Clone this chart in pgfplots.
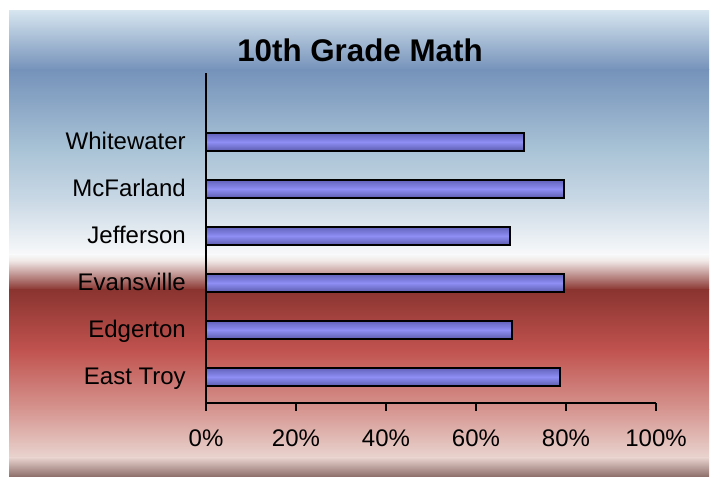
\documentclass[border=0pt]{standalone}
\usepackage{pgfplots}
\pgfplotsset{compat=1.18}
\usepackage{fontspec}
\setmainfont{Liberation Sans}
\definecolor{c0}{HTML}{D6E5EF}
\definecolor{c1}{HTML}{7592BA}
\definecolor{c2}{HTML}{A9C3D6}
\definecolor{c3}{HTML}{C9D8E5}
\definecolor{c4}{HTML}{F8F9FA}
\definecolor{c5}{HTML}{EEE4E2}
\definecolor{c6}{HTML}{8A3430}
\definecolor{c7}{HTML}{C0524E}
\definecolor{c8}{HTML}{D69590}
\definecolor{c9}{HTML}{E9D4CF}
\definecolor{c10}{HTML}{8C6C68}
\definecolor{barT}{HTML}{6262BC}
\definecolor{barM}{HTML}{8E8EF4}
\definecolor{barB}{HTML}{5C5CAE}
\newcommand{\band}[4]{\shade[top color=#3,bottom color=#4] ({9*0.75pt},{(478-#1+0.6)*0.75pt}) rectangle ({709*0.75pt},{(478-#2)*0.75pt});}
\begin{document}
\begin{tikzpicture}
\fill[white] (0,0) rectangle (536.25pt,358.5pt);
\band{11}{70}{c0}{c1}
\band{70}{150}{c1}{c2}
\band{150}{200}{c2}{c3}
\band{200}{255}{c3}{c4}
\band{255}{262}{c4}{c5}
\band{262}{290}{c5}{c6}
\band{290}{350}{c6}{c7}
\band{350}{410}{c7}{c8}
\band{410}{458}{c8}{c9}
\band{458}{477}{c9}{c10}
\node[font=\fontsize{23.5}{28}\selectfont\bfseries, anchor=base, inner sep=0pt] at (270pt,312pt) {10th Grade Math};
\begin{axis}[
  at={(154.5pt,56.25pt)}, anchor=south west,
  width=337.5pt, height=247.5pt, scale only axis,
  xmin=0, xmax=100, ymin=-0.553, ymax=6.468,
  ytick={0,...,5},
  yticklabels={East Troy,Edgerton,Evansville,Jefferson,McFarland,Whitewater},
  xtick={0,20,...,100},
  xticklabels={0\%,20\%,40\%,60\%,80\%,100\%},
  axis x line*=bottom, axis y line*=left,
  axis line style={-, line width=1.2pt, black},
  tick align=outside, major tick length=6pt,
  xtick style={line width=1.2pt, black},
  ytick style={draw=none},
  ticklabel style={font=\fontsize{18}{21}\selectfont},
  yticklabel style={anchor=base east, inner sep=0pt, xshift=-9pt, yshift=-5.5pt},
  xticklabel style={anchor=center, inner sep=0pt, yshift=-20.25pt},
  mybar/.style={xbar, bar width=13.5pt, bar shift=0pt, draw=black, line width=1.4pt, top color=barT, bottom color=barB, middle color=barM},
]
\addplot[mybar] coordinates {(78.7,0)};
\addplot[mybar] coordinates {(68.0,1)};
\addplot[mybar] coordinates {(79.6,2)};
\addplot[mybar] coordinates {(67.6,3)};
\addplot[mybar] coordinates {(79.6,4)};
\addplot[mybar] coordinates {(70.7,5)};
\end{axis}
\end{tikzpicture}
\end{document}
